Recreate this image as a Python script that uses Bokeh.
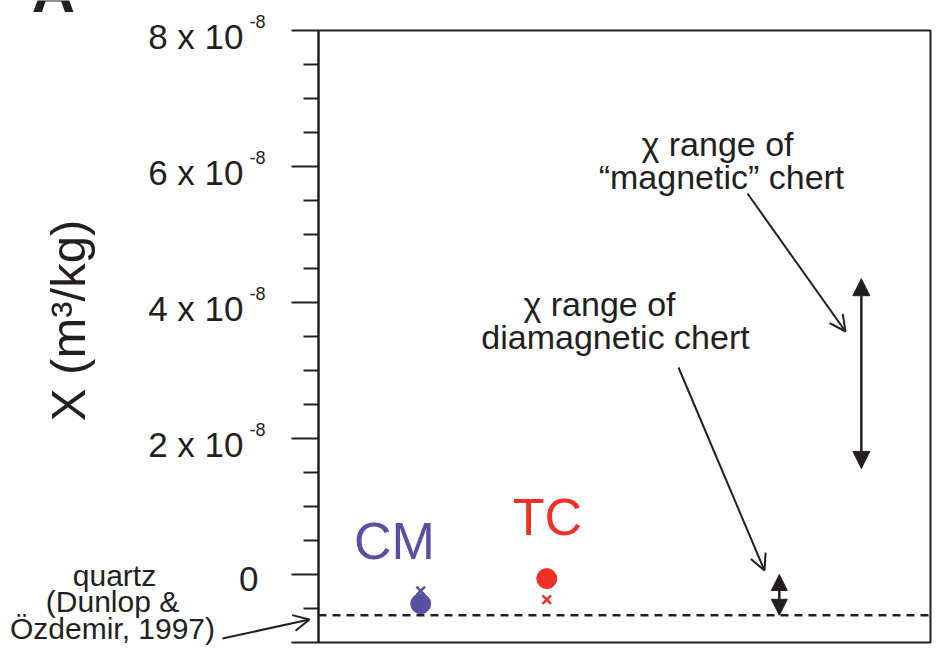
from bokeh.plotting import figure
from bokeh.models import (Range1d, FixedTicker, Label, Arrow, NormalHead, OpenHead,
                          BoxAnnotation, CustomJSTickFormatter)
from bokeh.embed import file_html
from bokeh.resources import INLINE

# ---------------- data ----------------
samples = ["CM", "TC"]
sample_x = [0.167, 0.373]
sample_colors = ["#5A4FA2", "#EE3124"]
chi_dot = [-0.43e-8, -0.06e-8]      # filled circles
chi_cross = [-0.24e-8, -0.37e-8]    # crosses
quartz_chi = -0.60e-8               # quartz (Dunlop & Özdemir, 1997)
dia_range = [0.0, -0.60e-8]         # diamagnetic chert range
mag_range = [4.35e-8, 1.56e-8]      # "magnetic" chert range
dia_x = 0.753
mag_x = 0.887

y_major = [-1e-8, 0.0, 2e-8, 4e-8, 6e-8, 8e-8]
y_minor = [-0.5e-8, 0.5e-8, 1e-8, 1.5e-8, 2.5e-8, 3e-8, 3.5e-8,
           4.5e-8, 5e-8, 5.5e-8, 6.5e-8, 7e-8, 7.5e-8]
tick_values = [0.0, 2e-8, 4e-8, 6e-8, 8e-8]
tick_mantissa = ["0", "2 x 10", "4 x 10", "6 x 10", "8 x 10"]
tick_exponent = ["", "-8", "-8", "-8", "-8"]

# ---------------- layout ----------------
W, H = 940, 654
L, R, T, B = 318, 10, 30, 12       # plot box inside the canvas (pixels)
X0, X1 = 0.0, 1.0
Y0, Y1 = -1e-8, 8e-8
FONT = "Liberation Sans"
INK = "#231F20"

xs = (X1 - X0) / (W - L - R)       # data per pixel
ys = (Y1 - Y0) / (H - T - B)


def dx(px):
    return X0 + (px - L) * xs


def dy(py):
    return Y1 - (py - T) * ys


def ypx(v):
    return T + (Y1 - v) / ys


p = figure(width=W, height=H,
           x_range=Range1d(dx(0), dx(W)), y_range=Range1d(dy(H), dy(0)),
           x_axis_type=None, toolbar_location=None, output_backend="svg",
           min_border_left=0, min_border_right=0, min_border_top=0, min_border_bottom=0)
p.ygrid.grid_line_color = None
p.background_fill_color = "white"
p.border_fill_color = "white"
p.outline_line_color = None

ax = p.yaxis[0]
ax.fixed_location = X0
ax.bounds = (Y0, Y1)
ax.ticker = FixedTicker(ticks=y_major, minor_ticks=y_minor)
ax.formatter = CustomJSTickFormatter(code="return ''")
ax.major_label_standoff = 0
ax.major_tick_out = 27
ax.major_tick_in = 0
ax.minor_tick_out = 15
ax.minor_tick_in = 0
ax.axis_line_width = 2
ax.axis_line_color = INK
ax.major_tick_line_width = 2
ax.major_tick_line_color = INK
ax.minor_tick_line_width = 2
ax.minor_tick_line_color = INK

# plot box
p.add_layout(BoxAnnotation(left=X0, right=X1, bottom=Y0, top=Y1, fill_alpha=0,
                           line_color=INK, line_alpha=1, line_width=2, level="underlay"))


def lab(text, px, py, size, align="center", color=INK, style="normal", angle=0,
        on_baseline=True):
    # py is the text baseline (pixels) unless on_baseline is False (then centre)
    cy = py - 0.35 * size if on_baseline else py
    p.add_layout(Label(x=dx(px), y=dy(cy), text=text, text_align=align,
                       text_baseline="middle", text_font=FONT,
                       text_font_size=f"{size}px", text_color=color,
                       text_font_style=style, angle=angle, angle_units="deg"))


# tick labels with superscript exponent
for v, m, e in zip(tick_values, tick_mantissa, tick_exponent):
    ty = ypx(v)
    if e:
        lab(m, 243, ty + 18, 35, align="right")
        lab(e, 249, ty - 3, 18, align="left")
    else:
        lab(m, 258, ty + 17, 35, align="right")

# axis title
lab("X (m³/kg)", 67, 320, 49, angle=90, on_baseline=False)

# panel letter (cut off at top in the original)
lab("A", 53, 12, 60, style="bold")

# quartz reference line
p.segment(x0=[X0], y0=[quartz_chi], x1=[X1], y1=[quartz_chi],
          line_dash="8 6", line_width=2.5, line_color=INK)

# sample markers
p.scatter(x=sample_x, y=chi_dot, marker="circle", size=20,
          fill_color=sample_colors, line_color=sample_colors)
p.scatter(x=sample_x, y=chi_cross, marker="x", size=12, line_width=2.5,
          line_color=sample_colors)

# sample names
lab(samples[0], 394, 559, 52, color=sample_colors[0])
lab(samples[1], 547, 535, 52, color=sample_colors[1])

# range double arrows
for xx, (ya, yb), hs in [(dia_x, dia_range, 16), (mag_x, mag_range, 17)]:
    p.add_layout(Arrow(x_start=xx, y_start=yb, x_end=xx, y_end=ya,
                       start=NormalHead(size=hs, fill_color=INK, line_color=INK, line_width=1),
                       end=NormalHead(size=hs, fill_color=INK, line_color=INK, line_width=1),
                       line_width=2.5, line_color=INK))

# annotation texts
lab("χ range of", 599, 315, 34)
lab("diamagnetic chert", 615, 348, 34)
lab("χ range of", 717, 155, 34)
lab("“magnetic” chert", 721, 188, 34)
lab("quartz", 114, 585, 30)
lab("(Dunlop &", 112, 611, 30)
lab("Özdemir, 1997)", 112, 638, 30)

# pointer arrows
for (x0, y0, x1, y1) in [(678, 367, 764, 570), (747, 193, 845, 331), (222, 638, 309, 619)]:
    p.add_layout(Arrow(x_start=dx(x0), y_start=dy(y0), x_end=dx(x1), y_end=dy(y1),
                       end=OpenHead(size=16, line_width=2, line_color=INK),
                       line_width=2, line_color=INK))

open("out.html", "w").write(file_html(p, INLINE))
